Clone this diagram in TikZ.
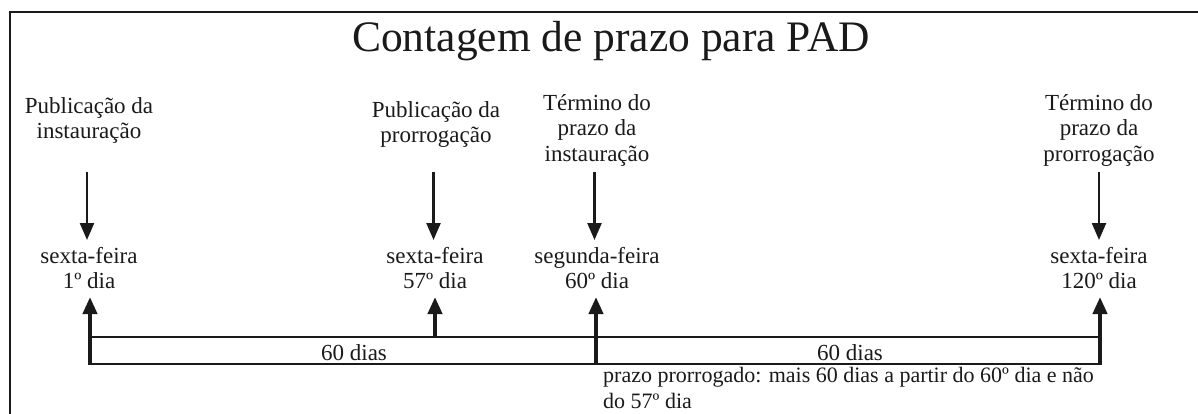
\documentclass[tikz,border=0pt]{standalone}
\usepackage{fontspec}
\setmainfont{Liberation Serif}
\usetikzlibrary{arrows.meta}
\definecolor{ink}{HTML}{1A1A1A}
\begin{document}
\begin{tikzpicture}[x=1pt,y=-1pt,
  every node/.style={text=ink},
  lbl/.style={align=center, inner sep=0pt, anchor=north, font=\fontsize{23}{25.5}\selectfont},
  dias/.style={inner sep=0pt, anchor=base, font=\fontsize{23}{25.5}\selectfont},
  note/.style={align=left, inner sep=0pt, anchor=north west, font=\fontsize{22}{26}\selectfont},
  titlestyle/.style={inner sep=0pt, anchor=base, font=\fontsize{43.5}{48}\selectfont},
  dnarrow/.style={draw=ink, line width=2.4pt, -{Triangle[width=14pt,length=17pt]}},
  uparrow/.style={draw=ink, line width=4pt, -{Triangle[width=14pt,length=17pt]}},
  barline/.style={draw=ink, line width=1.8pt},
  framestyle/.style={draw=ink, line width=2pt}]
\useasboundingbox (0,0) rectangle (1198,414);
\clip (0,0) rectangle (1198,414);
\fill[white] (0,0) rectangle (1198,414);
\draw[framestyle] (10,12) rectangle (1220,440);

% title
\node[titlestyle] (title) at (611,52) {Contagem de prazo para PAD};

% upper labels
\node[lbl] (pi) at (89,97) {Publicação da\\instauração};
\node[lbl] (pp) at (436,101) {Publicação da\\prorrogação};
\node[lbl] (ti) at (597,94) {Término do\\prazo da\\instauração};
\node[lbl] (tp) at (1099,94) {Término do\\prazo da\\prorrogação};

% lower labels
\node[lbl] (d1) at (89,247) {sexta-feira\\1º dia};
\node[lbl] (d57) at (435,247) {sexta-feira\\57º dia};
\node[lbl] (d60) at (597,247) {segunda-feira\\60º dia};
\node[lbl] (d120) at (1099,247) {sexta-feira\\120º dia};

% down arrows
\coordinate (a1s) at (87,172);   \coordinate (a1e) at (87,240);
\coordinate (a2s) at (433.5,172);\coordinate (a2e) at (433.5,240);
\coordinate (a3s) at (594.5,172);\coordinate (a3e) at (594.5,240);
\coordinate (a4s) at (1099,172); \coordinate (a4e) at (1099,240);
\draw[dnarrow] (a1s) -- (a1e);
\draw[dnarrow] (a2s) -- (a2e);
\draw[dnarrow] (a3s) -- (a3e);
\draw[dnarrow] (a4s) -- (a4e);

% bar
\coordinate (btl) at (90,337);  \coordinate (btr) at (1100,337);
\coordinate (bbl) at (90,364);  \coordinate (bbr) at (1100,364);
\draw[barline] (btl) -- (btr);
\draw[barline] (bbl) -- (bbr);

% up arrows
\coordinate (u1s) at (90,365);  \coordinate (u1e) at (90,297);
\coordinate (u2s) at (435,337); \coordinate (u2e) at (435,297);
\coordinate (u3s) at (596,365); \coordinate (u3e) at (596,297);
\coordinate (u4s) at (1100,365);\coordinate (u4e) at (1100,297);
\draw[uparrow] (u1s) -- (u1e);
\draw[uparrow] (u2s) -- (u2e);
\draw[uparrow] (u3s) -- (u3e);
\draw[uparrow] (u4s) -- (u4e);

% durations
\node[dias] (p1) at (354,360) {60 dias};
\node[dias] (p2) at (850,360) {60 dias};

% note
\node[note] (nt) at (603,367) {prazo prorrogado: mais 60 dias a partir do 60º dia e não\\do 57º dia};
\end{tikzpicture}
\end{document}
